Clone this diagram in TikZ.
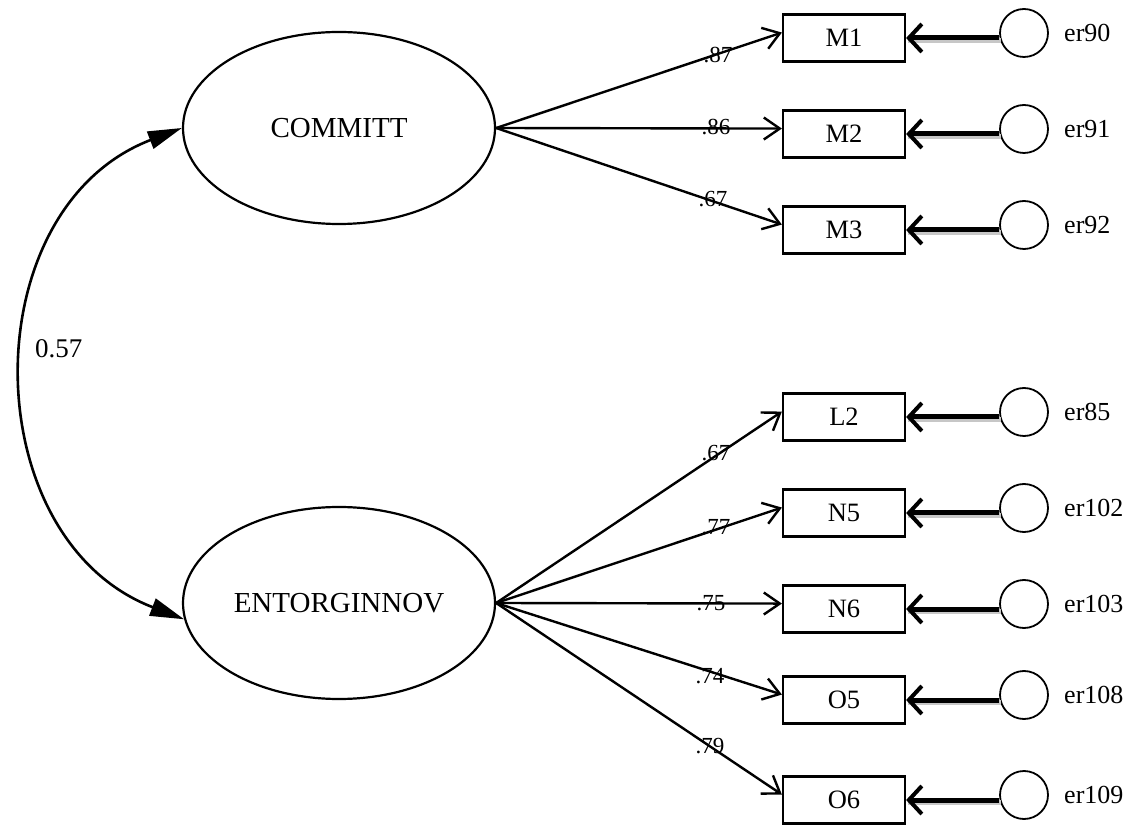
\documentclass[tikz,border=0pt]{standalone}
\usepackage{fontspec}
\setmainfont{Liberation Serif}
\usetikzlibrary{arrows.meta,shapes.geometric}
\begin{document}
\begin{tikzpicture}[x=1pt,y=1pt,
  latent/.style={ellipse,draw,line width=2.2pt,minimum width=312pt,minimum height=192pt,inner sep=0pt,font=\fontsize{29}{30}\selectfont},
  observed/.style={rectangle,draw,line width=2.2pt,minimum width=122pt,minimum height=47pt,inner sep=0pt,font=\fontsize{26.5}{28}\selectfont},
  errc/.style={circle,draw,line width=1.8pt,minimum size=48pt,inner sep=0pt},
  errlabel/.style={anchor=west,font=\fontsize{26}{28}\selectfont,inner sep=0pt},
  loading/.style={line width=2.4pt,-{Straight Barb[length=16pt,width=22pt,line width=2.4pt]}},
  coef/.style={font=\fontsize{23}{25}\selectfont,inner sep=0pt},
  errpath/.style={line width=5pt,-{Straight Barb[length=13pt,width=28pt,line width=4pt]}},
  errshadow/.style={line width=5pt,draw=black!22,transform canvas={shift={(1.5pt,-2.5pt)}}},
  corr/.style={line width=2.6pt,{Triangle[length=34pt,width=18pt]}-{Triangle[length=34pt,width=18pt]}}
]
\useasboundingbox (0,0) rectangle (1137,825);

% latent factors
\node[latent] (c) at (339,697) {COMMITT};
\node[latent] (e) at (339,222) {ENTORGINNOV};

% indicators
\node[observed] (m1) at (844,787) {M1};
\node[observed] (m2) at (844,691) {M2};
\node[observed] (m3) at (844,595) {M3};
\node[observed] (l2) at (844,408) {L2};
\node[observed] (n5) at (844,312) {N5};
\node[observed] (n6) at (844,216) {N6};
\node[observed] (o5) at (844,125) {O5};
\node[observed] (o6) at (844,25) {O6};

% error terms
\foreach \b/\lab/\yy in {m1/er90/792, m2/er91/696, m3/er92/600, l2/er85/413, n5/er102/317, n6/er103/221, o5/er108/130, o6/er109/30}{
  \node[errc] (c\b) at (1024,\yy) {};
  \node[errlabel] (t\b) at (1064,\yy) {\lab};
  \draw[errshadow] (\b.east -| c\b.west) -- (\b.east);
  \draw[errpath] (\b.east -| c\b.west) -- (\b.east);
}

% loadings
\foreach \b in {m1,m2,m3}{\draw[loading] (c.east) -- (\b.175);}
\foreach \b in {l2,n5,n6,o5,o6}{\draw[loading] (e.east) -- (\b.175);}

\node[coef] (k1) at (718,770) {.87};
\node[coef] (k2) at (716,698) {.86};
\node[coef] (k3) at (713,626) {.67};
\node[coef] (k4) at (716,372) {.67};
\node[coef] (k5) at (716,298) {.77};
\node[coef] (k6) at (711,222) {.75};
\node[coef] (k7) at (710,149) {.74};
\node[coef] (k8) at (710,79) {.79};

% factor correlation
\draw[corr] (c.west) to[out=201,in=159,looseness=1.17] (e.186);
\node[anchor=west,inner sep=0pt,font=\fontsize{27}{28}\selectfont] (r) at (35,476) {0.57};
\end{tikzpicture}
\end{document}
